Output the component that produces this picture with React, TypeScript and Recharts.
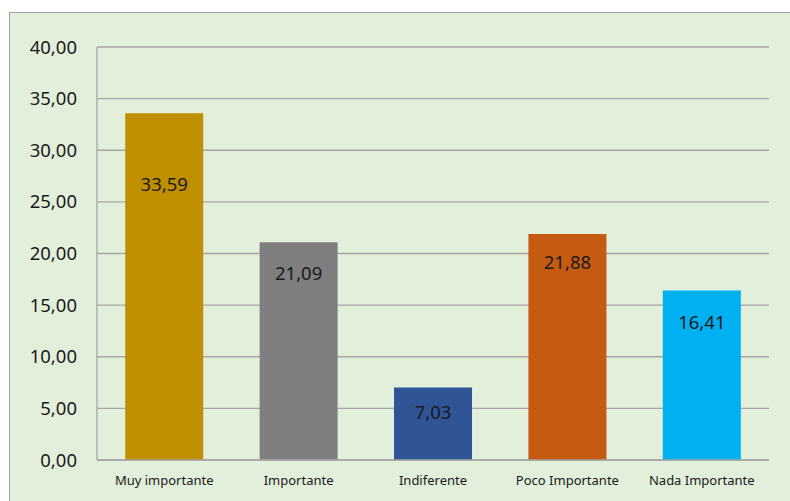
import { Bar, BarChart, CartesianGrid, Cell, LabelList, XAxis, YAxis } from 'recharts'

const categories = ['Muy importante', 'Importante', 'Indiferente', 'Poco Importante', 'Nada Importante']
const values = [33.59, 21.09, 7.03, 21.88, 16.41]
const yTicks = [0, 5, 10, 15, 20, 25, 30, 35, 40]

const barColors = ['#BF8F00', '#7F7F7F', '#2F5597', '#C55A11', '#00B0F0']
// distance from bar top to the label centre, as placed in the original
const labelDrop = [70, 30, 24, 27, 31]

const data = categories.map((name, i) => ({ name, value: values[i] }))

const fmt = (v: number) => v.toFixed(2).replace('.', ',')

const FONT = '"Noto Sans", sans-serif'

const BarLabel = (props: any) => {
  const { x, y, width, index, value } = props
  return (
    <text
      x={x + width / 2}
      y={y + labelDrop[index]}
      textAnchor="middle"
      dominantBaseline="central"
      fontFamily={FONT}
      fontSize={18.5}
      fill="#1a1a1a"
    >
      {fmt(value)}
    </text>
  )
}

export default function App() {
  return (
    <div style={{ position: 'fixed', left: 0, top: 0, width: 790, height: 501, overflow: 'hidden', background: '#fff' }}>
      <div
        style={{
          position: 'absolute',
          left: 9,
          top: 12,
          width: 800,
          height: 500,
          background: '#E2EFDA',
          border: '1px solid #A0A0A0',
        }}
      >
        <BarChart
          width={781}
          height={488}
          data={data}
          margin={{ top: 34, right: 22, left: 0, bottom: 11 }}
          barCategoryGap="21%"
        >
          <CartesianGrid vertical={false} stroke="#A6A6A6" strokeWidth={1.3} />
          <XAxis
            dataKey="name"
            height={30}
            tickLine={false}
            tickMargin={10}
            axisLine={{ stroke: '#A6A6A6', strokeWidth: 1.3 }}
            tick={{ fontFamily: FONT, fontSize: 13, fill: '#1a1a1a' }}
            interval={0}
          />
          <YAxis
            width={87}
            domain={[0, 40]}
            ticks={yTicks}
            tickFormatter={fmt}
            tickLine={false}
            tickSize={0}
            tickMargin={20}
            axisLine={{ stroke: '#A6A6A6', strokeWidth: 1.3 }}
            tick={{ fontFamily: FONT, fontSize: 18.5, fill: '#1a1a1a' }}
          />
          <Bar dataKey="value" isAnimationActive={false}>
            {data.map((d, i) => (
              <Cell key={d.name} fill={barColors[i]} />
            ))}
            <LabelList dataKey="value" content={BarLabel} />
          </Bar>
        </BarChart>
      </div>
    </div>
  )
}
